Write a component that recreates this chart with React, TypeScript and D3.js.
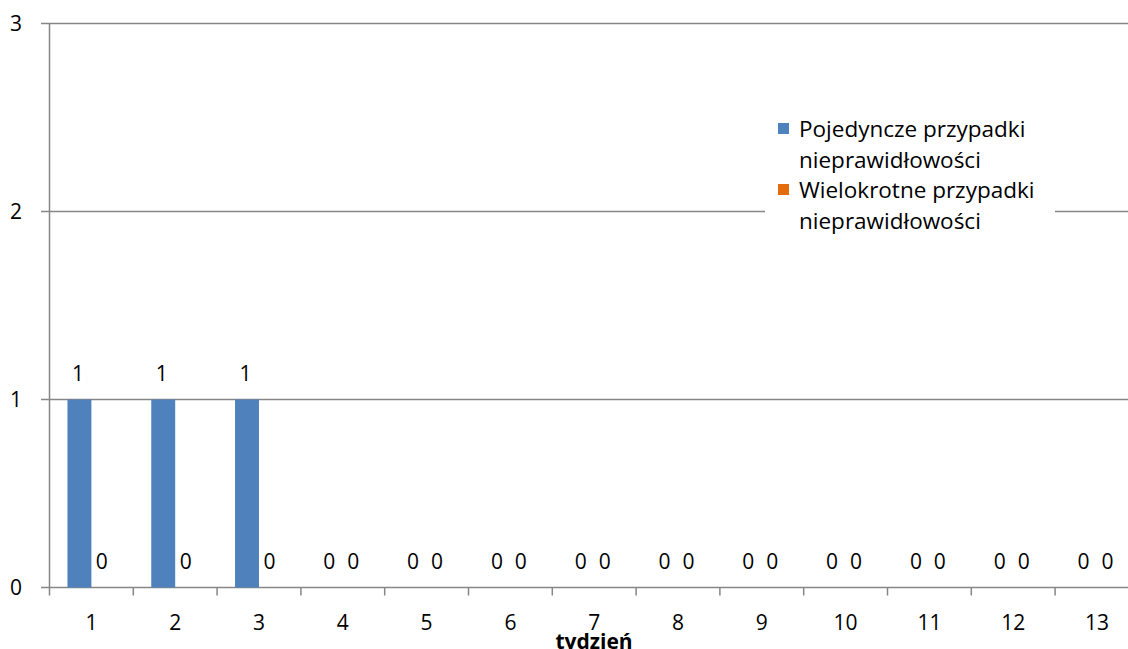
import React from "react";
import * as d3 from "d3";

const categories = ["1","2","3","4","5","6","7","8","9","10","11","12","13"];
const single = [1,1,1,0,0,0,0,0,0,0,0,0,0];
const multiple = [0,0,0,0,0,0,0,0,0,0,0,0,0];
const yTicks = [0,1,2,3];
const colors = ["#4f81bd", "#e46c0a"];
const legendLines = [["Pojedyncze przypadki", "nieprawidłowości"], ["Wielokrotne przypadki", "nieprawidłowości"]];

export default function App() {
  const W = 1128, H = 649;
  const left = 49.5, top = 23.5, bottom = 587.5;
  const step = 83.8;
  const right = left + step * categories.length;
  const x = d3.scaleBand().domain(categories).range([left, right]).paddingInner(0).paddingOuter(0);
  const y = d3.scaleLinear().domain([0, 3]).range([bottom, top]);
  const bw = step / 3.5;
  const font = "'Open Sans', sans-serif";
  const fs = 21;
  const lfs = 22.5;
  return (
    <svg width={W} height={H} style={{ position: "absolute", left: 0, top: 0 }} xmlns="http://www.w3.org/2000/svg">
      <rect x={0} y={0} width={W} height={H} fill="#fff" />
      {yTicks.map(t => (
        <g key={t}>
          <line x1={41} x2={right} y1={y(t)} y2={y(t)} stroke="#868686" strokeWidth={1.5} />
          <text x={22} y={y(t) + 7.5} textAnchor="end" fontFamily={font} fontSize={fs} fill="#000">{t}</text>
        </g>
      ))}
      <line x1={left} x2={left} y1={top} y2={bottom + 8} stroke="#868686" strokeWidth={1.5} />
      {categories.map((c, i) => (
        <g key={c}>
          <line x1={x(c)! + step} x2={x(c)! + step} y1={bottom} y2={bottom + 8} stroke="#868686" strokeWidth={1.5} />
          <text x={x(c)! + step / 2} y={630} textAnchor="middle" fontFamily={font} fontSize={fs} fill="#000">{c}</text>
        </g>
      ))}
      {[single, multiple].map((vals, s) => vals.map((v, i) => {
        const cx = x(categories[i])! + step / 2 - bw + s * bw;
        return (
          <g key={s + "-" + i}>
            {v > 0 && <rect x={cx} y={y(v)} width={bw} height={y(0) - y(v)} fill={colors[s]} />}
            <text x={cx + bw / 2 - 1.5} y={y(v) - 18.5} textAnchor="middle" fontFamily={font} fontSize={fs} fill="#000">{v}</text>
          </g>
        );
      }))}
      <rect x={765} y={105} width={290} height={145} fill="#fff" />
      {legendLines.map((lines, s) => (
        <g key={s}>
          <rect x={778} y={123 + s * 61} width={11} height={11} fill={colors[s]} />
          {lines.map((l, k) => (
            <text key={k} x={799} y={137 + s * 61 + k * 31} fontFamily={font} fontSize={lfs} fill="#000">{l}</text>
          ))}
        </g>
      ))}
      <text x={594} y={649} textAnchor="middle" fontFamily={font} fontSize={21} fontWeight="bold" fill="#000">tydzień</text>
    </svg>
  );
}
